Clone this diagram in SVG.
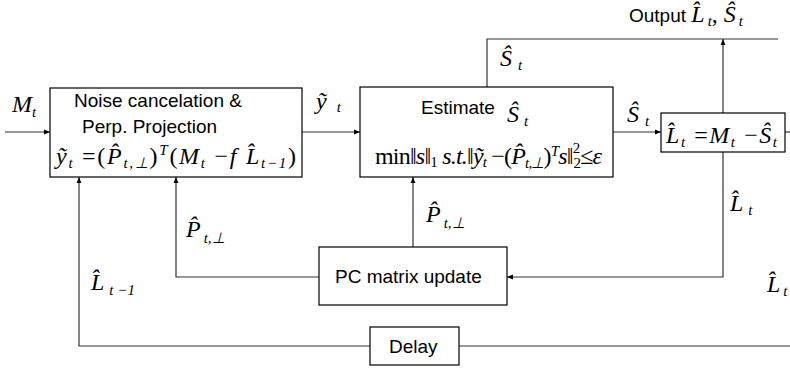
<svg xmlns="http://www.w3.org/2000/svg" width="790" height="370" viewBox="0 0 790 370">
<defs>
<marker id="ah" viewBox="0 0 10 10" refX="10" refY="5" markerWidth="6" markerHeight="6" orient="auto-start-reverse" markerUnits="userSpaceOnUse">
<path d="M0,1 L10,5 L0,9 z" fill="#000"/>
</marker>
<style>
.box{fill:#fff;stroke:#000;stroke-width:1.2}
.ln{fill:none;stroke:#333;stroke-width:1.2}
.sans{font-family:"Liberation Sans",Arial,sans-serif;font-size:19px;fill:#000}
.m{font-family:"Liberation Serif","Times New Roman",serif;font-style:italic;font-size:24px;fill:#000}
.r{font-style:normal}
.sub{font-size:15px}
</style>
</defs>
<rect width="790" height="370" fill="#fff"/>
<g id="connectors">
<line class="ln" x1="5" y1="132" x2="50" y2="132" marker-end="url(#ah)"/>
<line class="ln" x1="302" y1="132" x2="360" y2="132" marker-end="url(#ah)"/>
<line class="ln" x1="613" y1="132" x2="661" y2="132" marker-end="url(#ah)"/>
<polyline class="ln" points="487,87 487,39 778,39"/>
<line class="ln" x1="723" y1="113" x2="723" y2="39" marker-end="url(#ah)"/>
<line class="ln" x1="785" y1="132" x2="790" y2="132"/>
<polyline class="ln" points="723,152 723,277 507,277" marker-end="url(#ah)"/>
<line class="ln" x1="413" y1="247" x2="413" y2="177" marker-end="url(#ah)"/>
<polyline class="ln" points="319,277 176,277 176,177" marker-end="url(#ah)"/>
<polyline class="ln" points="370,346 79,346 79,177" marker-end="url(#ah)"/>
<line class="ln" x1="459" y1="346" x2="790" y2="346"/>
</g>
<g id="noise">
<rect class="box" x="50" y="88" width="252" height="89"/>
<text class="sans" x="74" y="107">Noise cancelation &amp;</text>
<text class="sans" x="82" y="133">Perp. Projection</text>
<text class="m" x="56" y="164" textLength="240" lengthAdjust="spacing">ỹ<tspan class="sub" dy="4">t</tspan><tspan class="r" dy="-4"> =(</tspan>P̂<tspan class="sub" dy="4">t,⊥</tspan><tspan class="r" dy="-4">)</tspan><tspan class="sub" dy="-9">T</tspan><tspan class="r" dy="9">(</tspan>M<tspan class="sub" dy="4">t</tspan><tspan class="r" dy="-4"> −</tspan>f L̂<tspan class="sub" dy="4">t−1</tspan><tspan class="r" dy="-4">)</tspan></text>
</g>
<g id="estimate">
<rect class="box" x="360" y="87" width="253" height="90"/>
<text class="sans" x="421" y="114">Estimate</text>
<text class="m" x="507" y="122">Ŝ<tspan class="sub" dx="5" dy="4">t</tspan></text>
<text class="m" x="375" y="164" font-size="21" textLength="227" lengthAdjust="spacing"><tspan class="r">min</tspan>‖<tspan>s</tspan>‖<tspan class="sub r" font-size="12" dy="3">1</tspan><tspan dy="-3"> s.t.</tspan>‖ỹ<tspan class="sub" font-size="13" dy="3">t</tspan><tspan class="r" dy="-3"> −(</tspan>P̂<tspan class="sub" font-size="13" dy="4">t,⊥</tspan><tspan class="r" dy="-4">)</tspan><tspan class="sub" font-size="13" dy="-8">T</tspan><tspan dy="8">s</tspan>‖<tspan class="sub r" font-size="11" dy="-11">2</tspan><tspan class="sub r" font-size="11" dx="-6" dy="15">2</tspan><tspan class="r" dy="-4">≤</tspan>ε</text>
</g>
<g id="subtract">
<rect class="box" x="661" y="113" width="124" height="39"/>
<text class="m" x="666" y="143" font-size="25" textLength="111" lengthAdjust="spacing">L̂<tspan class="sub" dy="4">t</tspan><tspan class="r" dy="-4"> =</tspan>M<tspan class="sub" dy="4">t</tspan><tspan class="r" dy="-4"> −</tspan>Ŝ<tspan class="sub" dy="4">t</tspan></text>
</g>
<g id="pcupdate">
<rect class="box" x="319" y="247" width="188" height="58"/>
<text class="sans" x="335" y="283">PC matrix update</text>
</g>
<g id="delay">
<rect class="box" x="370" y="327" width="89" height="38"/>
<text class="sans" x="389" y="353">Delay</text>
</g>
<g id="labels">
<text class="m" x="12" y="112" font-size="26">M<tspan class="sub" dy="5">t</tspan></text>
<text class="m" x="316" y="109">ỹ<tspan class="sub" dx="10" dy="3">t</tspan></text>
<text class="m" x="627" y="122">Ŝ<tspan class="sub" dx="6" dy="4">t</tspan></text>
<text class="m" x="500" y="66">Ŝ<tspan class="sub" dx="6" dy="4">t</tspan></text>
<text class="sans" x="629" y="22" font-size="16.5">Output <tspan class="m" font-size="24">L̂<tspan class="sub" dx="3" dy="4">t</tspan><tspan class="r" dy="-4">, </tspan>Ŝ<tspan class="sub" dx="3" dy="4">t</tspan></tspan></text>
<text class="m" x="730" y="211">L̂<tspan class="sub" dx="5" dy="4">t</tspan></text>
<text class="m" x="767" y="292">L̂<tspan class="sub" dx="3" dy="4">t</tspan></text>
<text class="m" x="186" y="237">P̂<tspan class="sub" dx="3" dy="6">t,⊥</tspan></text>
<text class="m" x="426" y="222">P̂<tspan class="sub" dx="3" dy="6">t,⊥</tspan></text>
<text class="m" x="91" y="290">L̂<tspan class="sub" dx="5" dy="5">t −1</tspan></text>
</g>
</svg>
